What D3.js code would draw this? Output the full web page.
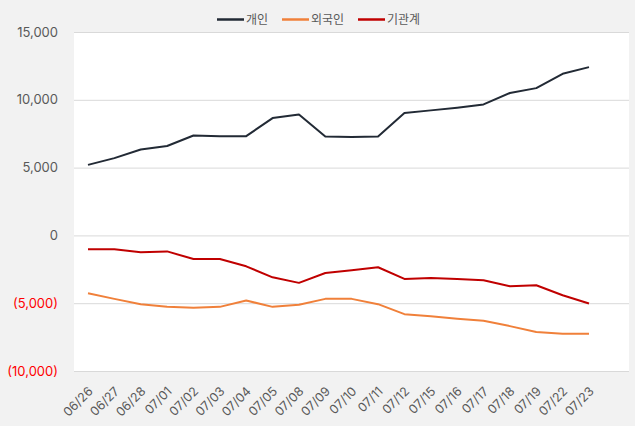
<!DOCTYPE html>
<html><head><meta charset="utf-8">
<script src="https://cdn.jsdelivr.net/npm/d3@7"></script>
<style>body{margin:0;background:#f2f2f2;}svg{display:block;}</style>
</head><body><svg id="c" width="635" height="426"></svg>
<script>
const dates = ["06/26","06/27","06/28","07/01","07/02","07/03","07/04","07/05","07/08","07/09","07/10","07/11","07/12","07/15","07/16","07/17","07/18","07/19","07/22","07/23"];
const individual = [5200,5700,6340,6590,7370,7320,7320,8650,8920,7300,7250,7300,9020,9220,9420,9660,10500,10860,11920,12410];
const foreign = [-4260,-4680,-5070,-5270,-5340,-5270,-4800,-5270,-5120,-4680,-4680,-5070,-5810,-5960,-6150,-6300,-6690,-7130,-7260,-7260];
const institution = [-1030,-1030,-1250,-1180,-1740,-1740,-2280,-3090,-3500,-2770,-2570,-2350,-3210,-3140,-3210,-3310,-3750,-3680,-4410,-5020];
const seriesNames = ["개인","외국인","기관계"];
const yTicks = [15000,10000,5000,0,-5000,-10000];
const colors = ["#222a35","#f0803a","#c00000"];

const svg = d3.select("#c");
const font = "Inter, 'Noto Sans CJK KR', sans-serif";
const plotL = 74, plotR = 629, plotT = 32, plotB = 371;
const x = d3.scalePoint().domain(dates).range([88, 589]);
const y = d3.scaleLinear().domain([-10000, 15000]).range([plotB, plotT]);

svg.append("rect").attr("x", plotL).attr("y", plotT).attr("width", plotR - plotL).attr("height", plotB - plotT).attr("fill", "#fff");

const fmt = v => v < 0 ? "(" + d3.format(",")(-v) + ")" : d3.format(",")(v);
const yAxis = d3.axisLeft(y).tickValues(yTicks).tickSize(-(plotR - plotL)).tickFormat(fmt);
const gy = svg.append("g").attr("transform", `translate(${plotL},0)`).call(yAxis);
gy.select(".domain").remove();
gy.selectAll(".tick line").attr("stroke", "#d9d9d9").attr("stroke-width", 1);
gy.selectAll(".tick text").attr("x", -16).attr("font-family", font).attr("font-size", 13)
  .attr("fill", d => d < 0 ? "#ff0000" : "#595959");

const xAxis = d3.axisBottom(x).tickSize(0);
const gx = svg.append("g").attr("transform", `translate(0,${plotB})`).call(xAxis);
gx.select(".domain").remove();
gx.selectAll(".tick text").attr("font-family", font).attr("font-size", 12.5).attr("fill", "#595959")
  .attr("text-anchor", "end").attr("dy", 0).attr("transform", "translate(3,19) rotate(-45)");

const data = [individual, foreign, institution];
const line = d3.line().x((d, i) => x(dates[i])).y(d => y(d));
data.forEach((s, k) => {
  svg.append("path").datum(s).attr("d", line).attr("fill", "none")
    .attr("stroke", colors[k]).attr("stroke-width", 2).attr("stroke-linejoin", "round");
});

// legend
const leg = svg.append("g").attr("font-family", font).attr("font-size", 12);
const legX = [217, 282, 358];
seriesNames.forEach((n, k) => {
  leg.append("line").attr("x1", legX[k]).attr("x2", legX[k] + 27).attr("y1", 19.5).attr("y2", 19.5)
    .attr("stroke", colors[k]).attr("stroke-width", 2.5);
  leg.append("text").attr("x", legX[k] + 29).attr("y", 24).attr("fill", "#595959").text(n);
});
</script></body></html>
